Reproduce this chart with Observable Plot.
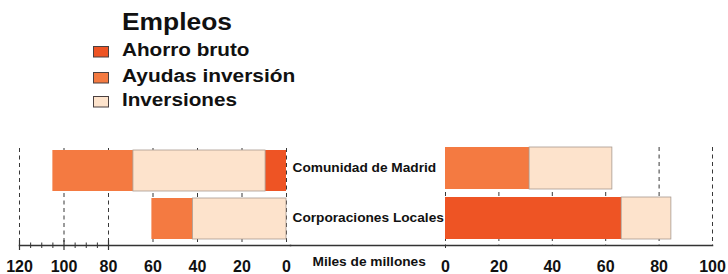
<!DOCTYPE html>
<html><head><meta charset="utf-8">
<script src="https://cdn.jsdelivr.net/npm/d3@7"></script>
<script src="https://cdn.jsdelivr.net/npm/@observablehq/plot@0.6"></script>
<style>
body{margin:0;background:#fff;}
#chart{position:relative;width:728px;height:274px;overflow:hidden;font-family:"Liberation Sans",Arial,sans-serif;background:#fff;}
#chart svg{position:absolute;}
</style></head><body><div id="chart"></div>
<script>
// ---- data ----
const categories = ["Comunidad de Madrid", "Corporaciones Locales"];
const series = ["Ahorro bruto", "Ayudas inversión", "Inversiones"];
const legendTitle = "Empleos";
const unitLabel = "Miles de millones";
// left panel (bars grow leftward from 0)
const leftAhorro = [9.4, 0];
const leftInversiones = [59.4, 42];
const leftAyudas = [36.2, 18.5];
const leftOrder = ["Ahorro bruto", "Inversiones", "Ayudas inversión"];
// right panel
const rightAhorro = [0, 66];
const rightAyudas = [31.5, 0];
const rightInversiones = [31, 18.6];
const rightOrder = ["Ahorro bruto", "Ayudas inversión", "Inversiones"];
// ticks
const leftTicks = [120, 100, 80, 60, 40, 20, 0];
const leftMajorMarks = [120, 100, 80];
const leftMinorTicks = [115, 110, 105, 95, 90, 85];
const rightTicks = [0, 20, 40, 60, 80, 100];

// ---- styles ----
const colors = ["#ee5424", "#f47a41", "#fde3cc"];
const font = '"Liberation Sans", Arial, sans-serif';
const ink = "#111";

function rows(ahorro, ayudas, inversiones) {
  const out = [];
  categories.forEach((c, i) => {
    out.push({category: c, series: "Ahorro bruto", value: ahorro[i]});
    out.push({category: c, series: "Ayudas inversión", value: ayudas[i]});
    out.push({category: c, series: "Inversiones", value: inversiones[i]});
  });
  return out;
}
const rowsL = rows(leftAhorro, leftAyudas, leftInversiones);
const rowsR = rows(rightAhorro, rightAyudas, rightInversiones);

const chart = document.getElementById("chart");

// ---- legend ----
const leg = d3.select(chart).append("svg")
  .attr("width", 728).attr("height", 120)
  .style("left", "0px").style("top", "0px")
  .style("font-family", font);
leg.append("text").attr("transform", "translate(122,30) scale(1.1,1)")
  .attr("font-size", 24).attr("font-weight", "bold")
  .attr("fill", ink).text(legendTitle);
const legY = [56, 82, 106];
const legScale = [1.15, 1.16, 1.15];
series.forEach((s, i) => {
  leg.append("rect").attr("x", 93.5).attr("y", legY[i] - 9.5).attr("width", 15).attr("height", 10.5)
    .attr("fill", colors[i]).attr("stroke", "#4a4040").attr("stroke-width", 1);
  leg.append("text").attr("transform", `translate(122,${legY[i]}) scale(${legScale[i]},1)`)
    .attr("font-size", 18).attr("font-weight", "bold")
    .attr("fill", ink).text(s);
});

const common = {
  height: 134,
  style: {fontFamily: font, background: "transparent", overflow: "visible", color: ink},
  color: {domain: series, range: colors},
  opacity: {domain: [0, 1], range: [0, 1]}
};

// ---- left panel ----
const left = Plot.plot({
  ...common,
  width: 290, marginLeft: 19, marginRight: 0, marginTop: 8, marginBottom: 29,
  x: {domain: [120, 0], range: [19, 286], label: null},
  y: {domain: categories, paddingInner: 0.15, paddingOuter: 0.07, align: 0.3, axis: null},
  marks: [
    Plot.gridX(leftTicks, {stroke: "#222", strokeOpacity: 0.9, strokeDasharray: "4,3.5"}),
    Plot.barX(rowsL, {x: "value", y: "category", fill: "series", order: leftOrder,
      stroke: "#a89a90", strokeWidth: 0.8, strokeOpacity: d => d.series === "Inversiones" ? 1 : 0}),
    Plot.frame({anchor: "bottom", stroke: "#333", strokeWidth: 1.5}),
    // crossing tick marks: upper half inside the frame, lower half as axis ticks
    Plot.tickX(leftMinorTicks, {x: d => d, insetTop: 94.5, stroke: "#333"}),
    Plot.axisX(leftMinorTicks, {tickSize: 3, tickFormat: () => "", label: null, stroke: "#333"}),
    Plot.tickX(leftMajorMarks, {x: d => d, insetTop: 92, stroke: "#333", strokeWidth: 1.2}),
    Plot.axisX(leftMajorMarks, {tickSize: 5, tickFormat: () => "", label: null, stroke: "#333", strokeWidth: 1.2}),
    Plot.axisX(leftTicks, {tickSize: 0, tickPadding: 15, label: null, fontSize: 16, fontWeight: "bold", fill: ink})
  ]
});
left.style.left = "0px"; left.style.top = "140px";
chart.appendChild(left);

// ---- right panel ----
const right = Plot.plot({
  ...common,
  width: 438, marginLeft: 0, marginRight: 16, marginTop: 7, marginBottom: 29,
  x: {domain: [0, 100], range: [155, 422], label: null},
  y: {domain: categories, paddingInner: 0.16, paddingOuter: 0.06, align: 0, axis: null},
  marks: [
    Plot.gridX(rightTicks, {stroke: "#222", strokeOpacity: 0.9, strokeDasharray: "4,3.5"}),
    Plot.barX(rowsR, {x: "value", y: "category", fill: "series", order: rightOrder,
      stroke: "#a89a90", strokeWidth: 0.8, strokeOpacity: d => d.series === "Inversiones" ? 1 : 0}),
    Plot.text(categories, {y: d => d, frameAnchor: "left", textAnchor: "start", dx: 2, dy: -1,
      fontSize: 13.7, fontWeight: "bold", fill: ink}),
    Plot.text([unitLabel], {frameAnchor: "bottom-left", textAnchor: "start", dx: 22, dy: 20.5,
      fontSize: 13.7, fontWeight: "bold", fill: ink}),
    Plot.frame({anchor: "bottom", stroke: "#333", strokeWidth: 1.5}),
    Plot.axisX([0], {tickSize: 3, tickFormat: () => "", label: null, stroke: "#333"}),
    Plot.axisX(rightTicks, {tickSize: 0, tickPadding: 15, label: null, fontSize: 16, fontWeight: "bold", fill: ink})
  ]
});
right.style.left = "290px"; right.style.top = "140px";
chart.appendChild(right);
</script></body></html>
